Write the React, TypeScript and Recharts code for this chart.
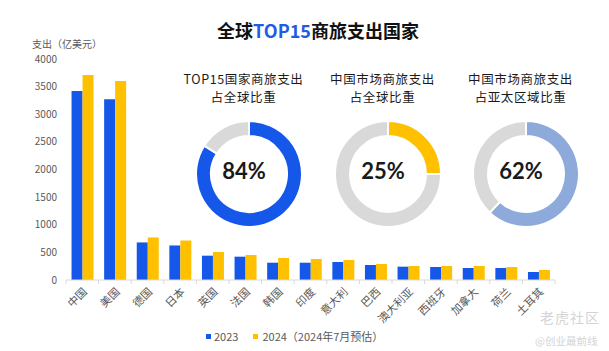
import { BarChart, Bar, XAxis, YAxis, PieChart, Pie, Cell, Label } from "recharts"

const countries = ["中国", "美国", "德国", "日本", "英国", "法国", "韩国", "印度", "意大利", "巴西", "澳大利亚", "西班牙", "加拿大", "荷兰", "土耳其"]
const spend2023 = [3420, 3270, 680, 625, 440, 422, 313, 313, 326, 271, 241, 235, 217, 217, 145]
const spend2024 = [3710, 3600, 770, 715, 507, 452, 398, 380, 362, 290, 253, 253, 253, 235, 181]
const yTicks = [0, 500, 1000, 1500, 2000, 2500, 3000, 3500, 4000]

const shareTitles = [
  ["TOP15国家商旅支出", "占全球比重"],
  ["中国市场商旅支出", "占全球比重"],
  ["中国市场商旅支出", "占亚太区域比重"],
]
const shareValues = [84, 25, 62]
const shareColors = ["#1558e9", "#ffc000", "#8eaadb"]

const BLUE = "#1558e9"
const YELLOW = "#ffc000"
const GRID = "#d9d9d9"
const CJK = '"Noto Sans CJK SC", "Noto Sans", sans-serif'

const barData = countries.map((c, i) => ({ country: c, y2023: spend2023[i], y2024: spend2024[i] }))

function CountryTick(props: any) {
  const { x, y, payload, index } = props
  const half = payload.offset ?? 16.3
  const tx = x + 2
  const ty = y + 9
  return (
    <g>
      <line x1={x - half} x2={x - half} y1={y} y2={y + 4} stroke={GRID} />
      {index === countries.length - 1 && <line x1={x + half} x2={x + half} y1={y} y2={y + 4} stroke={GRID} />}
      <text
        x={tx}
        y={ty}
        transform={`rotate(-45 ${tx} ${ty})`}
        textAnchor="end"
        dominantBaseline="central"
        fill="#595959"
        fontSize={11}
        fontFamily={CJK}
      >
        {payload.value}
      </text>
    </g>
  )
}

function Donut({ idx, left, top }: { idx: number; left: number; top: number }) {
  const v = shareValues[idx]
  const data = [
    { name: "share", value: v },
    { name: "rest", value: 100 - v },
  ]
  return (
    <div style={{ position: "absolute", left, top }}>
      <PieChart width={120} height={120}>
        <Pie
          data={data}
          dataKey="value"
          cx={60}
          cy={60}
          innerRadius={38}
          outerRadius={53}
          startAngle={90}
          endAngle={-270}
          stroke="#fff"
          strokeWidth={2}
          isAnimationActive={false}
        >
          <Cell fill={shareColors[idx]} />
          <Cell fill="#d9d9d9" />
          <Label
            value={`${v}%`}
            position="center"
            dy={2}
            style={{ fontFamily: "Lato, sans-serif", fontWeight: 700, fontSize: 22, fill: "#1a1a1a" }}
          />
        </Pie>
      </PieChart>
    </div>
  )
}

export default function App() {
  const donutCenters = [243.5, 382.5, 520.5]
  return (
    <div style={{ position: "absolute", left: 0, top: 0, width: 609, height: 351, background: "#fff", fontFamily: CJK }}>
      <div
        style={{
          position: "absolute",
          left: 0,
          width: 636,
          top: 18,
          textAlign: "center",
          fontSize: 18,
          fontWeight: 700,
          color: "#111",
          lineHeight: "24px",
        }}
      >
        全球<span style={{ color: "#1f5ce6" }}>TOP15</span>商旅支出国家
      </div>
      <div style={{ position: "absolute", left: 32, top: 37, fontSize: 10, color: "#595959", lineHeight: "14px" }}>
        支出（亿美元）
      </div>

      <div style={{ position: "absolute", left: 0, top: 0 }}>
        <BarChart width={609} height={351} data={barData} margin={{ top: 59, right: 54, left: 16, bottom: 21 }} barCategoryGap="17%" barGap={0}>
          <YAxis
            width={50}
            domain={[0, 4000]}
            ticks={yTicks}
            axisLine={false}
            tickLine={false}
            tickMargin={3}
            tick={{ fill: "#595959", fontSize: 10, fontFamily: CJK }}
          />
          <XAxis
            dataKey="country"
            height={50}
            interval={0}
            tickLine={false}
            tickSize={0}
            tickMargin={0}
            axisLine={{ stroke: GRID }}
            tick={<CountryTick />}
          />
          <Bar dataKey="y2023" fill={BLUE} isAnimationActive={false} />
          <Bar dataKey="y2024" fill={YELLOW} isAnimationActive={false} />
        </BarChart>
      </div>

      {donutCenters.map((cx, i) => (
        <div key={i}>
          {shareTitles[i].map((line, j) => (
            <div
              key={j}
              style={{
                position: "absolute",
                left: cx - 80,
                width: 160,
                top: 70 + j * 18.3,
                textAlign: "center",
                fontSize: 12.5,
                letterSpacing: 0.6,
                lineHeight: "18.2px",
                color: "#1a1a1a",
                whiteSpace: "nowrap",
              }}
            >
              {line}
            </div>
          ))}
          <Donut idx={i} left={cx - 60} top={109} />
        </div>
      ))}

      <div style={{ position: "absolute", left: 206, top: 328, display: "flex", alignItems: "center", fontSize: 11, color: "#595959", lineHeight: "16px" }}>
        <span style={{ width: 5, height: 5, background: BLUE, display: "inline-block", marginRight: 3 }} />
        <span>2023</span>
        <span style={{ width: 5, height: 5, background: YELLOW, display: "inline-block", marginLeft: 15, marginRight: 4 }} />
        <span>2024（2024年7月预估）</span>
      </div>

      <div style={{ position: "absolute", left: 540, top: 307, fontSize: 14, color: "#d4d4d4", letterSpacing: 1 }}>老虎社区</div>
      <div style={{ position: "absolute", left: 535, top: 333, fontSize: 10.5, color: "#d4d4d4" }}>@创业最前线</div>
    </div>
  )
}
